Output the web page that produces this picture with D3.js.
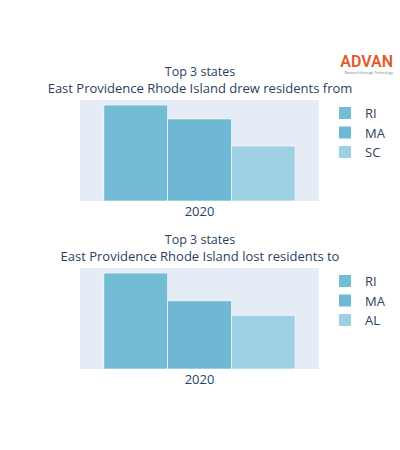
<!DOCTYPE html><html><head><script src="https://cdn.jsdelivr.net/npm/d3@7"></script>
<style>body{margin:0;background:#fff}text{font-family:"Open Sans",sans-serif}</style></head><body>
<svg id="c" width="400" height="450"></svg>
<script>
const year = ["2020"];
const states1 = ["RI","MA","SC"];
const values1 = [100,85.5,57.3];
const states2 = ["RI","MA","AL"];
const values2 = [100,71,56];
const colors = ["#74bcd6","#6fb8d4","#9dd0e2"];
const svg = d3.select("#c");
svg.append("text").attr("x",393).attr("y",67).attr("text-anchor","end").attr("fill","#e25a2a")
 .style("font-size","16px").style("font-weight","600").style("font-family","Roboto,sans-serif").text("ADVAN");
svg.append("text").attr("x",393).attr("y",74).attr("text-anchor","end").attr("fill","#777")
 .style("font-size","3.5px").text("Research through Technology");
function chart(top, title2, states, values){
  const x0=80,x1=319,y0=top,y1=top+101;
  svg.append("text").attr("x",200).attr("y",top-24.5).attr("text-anchor","middle").attr("fill","#2a3f5f").style("font-size","12.5px").text("Top 3 states");
  svg.append("text").attr("x",200).attr("y",top-7).attr("text-anchor","middle").attr("fill","#2a3f5f").style("font-size","13px").text(title2);
  svg.append("rect").attr("x",x0).attr("y",y0).attr("width",x1-x0).attr("height",y1-y0).attr("fill","#e5ecf6");
  const xo=d3.scaleBand().domain(year).range([x0,x1]).paddingInner(0.2).paddingOuter(0.1);
  const xi=d3.scaleBand().domain(states).range([xo(year[0]),xo(year[0])+xo.bandwidth()]);
  const y=d3.scaleLinear().domain([0,d3.max(values)*1.0526]).range([y1,y0]);
  svg.selectAll(null).data(states).enter().append("rect")
   .attr("x",d=>xi(d)).attr("width",xi.bandwidth()).attr("y",(d,i)=>y(values[i])).attr("height",(d,i)=>y1-y(values[i]))
   .attr("fill",(d,i)=>colors[i]).attr("stroke","#fff").attr("stroke-width",0.6);
  svg.append("text").attr("x",xo(year[0])+xo.bandwidth()/2).attr("y",y1+15).attr("text-anchor","middle").attr("fill","#2a3f5f").style("font-size","13px").text(year[0]);
  states.forEach((s,i)=>{
    const ly=top+13+i*19.5;
    svg.append("rect").attr("x",339).attr("y",ly-6).attr("width",12).attr("height",12).attr("fill",colors[i]);
    svg.append("text").attr("x",365).attr("y",ly+5).attr("fill","#2a3f5f").style("font-size","13px").text(s);
  });
}
chart(100,"East Providence Rhode Island drew residents from",states1,values1);
chart(268,"East Providence Rhode Island lost residents to",states2,values2);
</script></body></html>
